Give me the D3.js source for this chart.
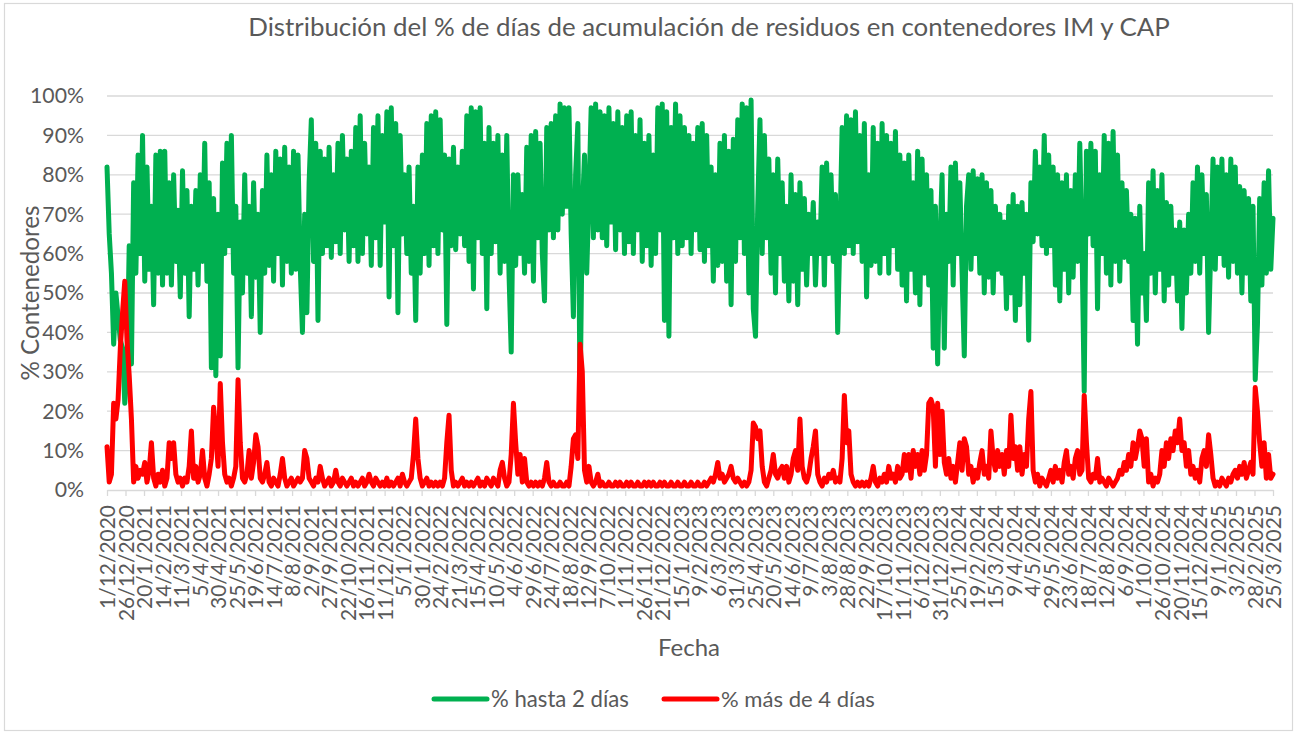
<!DOCTYPE html>
<html><head><meta charset="utf-8">
<script src="https://cdn.jsdelivr.net/npm/d3@7"></script>
<style>
body{margin:0;background:#fff}
text{font-family:Lato,"Open Sans",sans-serif;fill:#595959}
</style>
</head><body>
<svg id="c" width="1298" height="735"></svg>
<script>
const title = "Distribución del % de días de acumulación de residuos en contenedores IM y CAP";
const yAxisTitle = "% Contenedores";
const xAxisTitle = "Fecha";
const seriesNames = ["% hasta 2 días", "% más de 4 días"];
const startDate = "1/12/2020";
const endDate = "25/3/2025";
const stepDays = 3;
const yTicks = [0,10,20,30,40,50,60,70,80,90,100];
const tickLabels = ["1/12/2020","26/12/2020","20/1/2021","14/2/2021","11/3/2021","5/4/2021","30/4/2021","25/5/2021","19/6/2021","14/7/2021","8/8/2021","2/9/2021","27/9/2021","22/10/2021","16/11/2021","11/12/2021","5/1/2022","30/1/2022","24/2/2022","21/3/2022","15/4/2022","10/5/2022","4/6/2022","29/6/2022","24/7/2022","18/8/2022","12/9/2022","7/10/2022","1/11/2022","26/11/2022","21/12/2022","15/1/2023","9/2/2023","6/3/2023","31/3/2023","25/4/2023","20/5/2023","14/6/2023","9/7/2023","3/8/2023","28/8/2023","22/9/2023","17/10/2023","11/11/2023","6/12/2023","31/12/2023","25/1/2024","19/2/2024","15/3/2024","9/4/2024","4/5/2024","29/5/2024","23/6/2024","18/7/2024","12/8/2024","6/9/2024","1/10/2024","26/10/2024","20/11/2024","15/12/2024","9/1/2025","3/2/2025","28/2/2025","25/3/2025"];

// % hasta 2 días (one value every 3 days)
const hasta2 = [
82,65,55,37,50,44,38,36,22,30,
62,32,78,55,85,60,90,53,82,56,
72,47,85,55,86,52,86,55,78,52,
80,58,71,49,81,55,76,44,72,56,
76,52,80,58,88,53,78,31,74,29,
70,34,83,60,88,62,90,55,72,31,
68,50,80,55,72,44,78,54,70,40,
76,55,85,57,80,53,86,60,84,52,
87,58,82,55,86,56,85,57,40,70,
45,78,94,58,88,43,86,60,84,62,
87,59,80,63,88,60,90,66,84,58,
86,62,92,58,95,60,88,65,82,57,
92,64,95,57,90,68,96,49,97,62,
93,45,90,65,80,60,82,55,72,43,
82,55,85,60,93,57,95,62,96,60,
94,66,85,42,84,62,87,61,82,65,
86,62,95,58,97,51,96,64,97,60,
88,46,92,60,88,63,90,55,85,58,
90,55,35,80,57,80,60,75,55,87,
58,90,53,91,64,88,60,48,92,66,
93,64,95,66,98,70,97,72,97,65,
44,80,93,22,70,85,55,75,97,64,
98,66,96,64,95,62,97,68,93,61,
96,66,92,60,95,63,96,60,90,66,
94,58,88,62,90,57,85,60,97,66,
98,43,96,39,92,64,98,60,95,62,
92,64,90,60,88,66,92,61,93,58,
90,62,82,53,80,57,88,58,90,53,
86,47,89,58,94,64,98,60,97,50,
99,46,39,72,94,60,90,64,84,55,
80,50,84,60,78,53,72,48,80,53,
75,47,78,56,74,52,70,60,73,52,
68,60,82,52,83,60,80,58,75,40,
65,92,60,95,62,94,60,96,63,90,
58,93,49,80,57,92,58,88,55,93,
60,90,55,88,62,91,56,85,52,83,
48,85,56,78,50,86,47,84,55,80,
52,76,36,72,32,62,80,36,70,58,
82,52,83,60,78,55,34,72,80,56,
81,60,79,55,80,50,78,54,76,50,
72,56,70,55,68,46,72,50,75,43,
72,47,73,55,70,38,78,63,86,65,
82,62,90,60,85,62,82,52,80,48,
78,56,80,50,76,54,80,58,88,62,
25,86,65,88,62,86,46,80,60,90,
55,88,52,91,58,85,53,78,59,76,
58,70,43,69,37,72,50,60,43,78,
55,81,50,76,56,80,48,73,52,72,
55,66,48,68,41,66,50,70,55,78,
58,82,55,80,60,75,40,62,84,56,
82,60,84,57,80,54,84,58,82,55,
77,50,76,55,74,48,72,28,42,74,
52,78,55,81,56,69
];

// % más de 4 días
const mas4 = [
11,2,4,22,18,23,36,45,53,38,
29,18,2,6,3,5,4,7,2,5,
12,3,1,4,2,5,1,3,12,8,
12,4,2,3,1,3,2,6,15,3,
6,2,4,10,3,1,4,8,21,14,
6,27,12,4,2,3,1,3,6,28,
12,3,2,4,10,3,7,14,11,3,
2,4,7,2,1,3,2,1,4,8,
3,1,2,3,1,2,3,2,3,10,
8,3,2,1,3,2,6,3,1,2,
3,1,2,5,2,1,3,2,1,2,
3,1,2,1,2,3,1,2,4,2,
1,3,2,1,2,1,3,1,2,1,
2,3,1,4,2,1,2,3,9,18,
8,3,1,2,3,1,2,1,2,1,
2,1,3,12,19,5,1,2,1,2,
3,1,2,1,2,1,2,3,1,2,
1,3,2,1,3,2,1,5,7,3,
1,2,9,22,12,4,9,2,8,2,
1,2,1,2,1,2,1,3,7,2,
1,2,1,1,2,1,1,2,1,6,
13,14,8,37,30,5,2,6,2,1,
2,4,1,2,1,1,2,1,1,2,
1,2,1,1,2,1,2,1,1,2,
1,1,2,1,2,1,2,1,1,2,
1,2,1,1,2,1,1,2,1,1,
2,1,1,2,1,1,2,1,1,2,
1,2,3,2,4,7,3,4,2,3,
4,6,3,2,3,2,1,2,1,2,
5,17,16,13,15,6,2,1,3,5,
9,4,3,5,6,3,6,2,4,8,
10,5,18,6,3,2,4,8,11,15,
4,2,1,3,2,4,3,5,2,3,
2,8,24,12,15,4,2,1,2,1,
2,1,2,1,3,6,2,1,3,2,
4,2,6,3,4,2,6,3,4,9,
5,9,3,10,6,9,4,10,5,9,
22,23,21,6,22,9,20,7,4,8,
3,6,2,7,12,5,13,11,4,6,
2,5,3,7,10,4,6,3,15,8,
5,10,6,9,4,10,6,19,8,11,
5,11,4,9,6,18,25,5,2,4,
1,3,2,1,3,5,2,6,3,5,
2,7,10,4,6,3,8,10,4,5,
24,12,3,2,4,3,8,2,3,2,
1,3,2,1,2,3,5,4,7,5,
9,6,12,8,11,15,13,6,13,2,
4,1,3,2,4,10,6,12,8,13,
10,15,12,18,10,12,6,10,4,6,
3,5,2,8,10,6,14,9,3,1,
2,1,3,2,1,3,2,4,5,3,
6,4,7,3,5,7,4,26,20,12,
6,12,3,9,3,4
];

const colors = ["#00b050", "#ff0000"];
const parse = d3.utcParse("%d/%m/%Y");
const fmt = d3.utcFormat("%-d/%-m/%Y");
const t0 = parse(startDate), t1 = parse(endDate);
const dateAt = i => d3.utcDay.offset(t0, i * stepDays);

const svg = d3.select("#c");
const M = {left:107, right:1273, top:96, bottom:490};
const x = d3.scaleUtc().domain([t0, t1]).range([M.left, M.right]);
const y = d3.scaleLinear().domain([0, 100]).range([M.bottom, M.top]);

function fit(sel, w){
  const L = sel.node().getComputedTextLength();
  const fs = parseFloat(sel.attr("font-size"));
  sel.attr("font-size", fs * w / L);
  return fs * w / L;
}

// border
svg.append("rect").attr("x",4.5).attr("y",3.5).attr("width",1288).attr("height",727)
  .attr("fill","#fff").attr("stroke","#d9d9d9").attr("stroke-width",1.2);

// title
const tt = svg.append("text").attr("x",709).attr("y",36).attr("text-anchor","middle")
  .attr("font-size",20).text(title);
fit(tt, 922);

// gridlines
svg.append("g").selectAll("line").data(yTicks.filter(d=>d>0)).join("line")
  .attr("x1",M.left).attr("x2",M.right)
  .attr("y1",d=>y(d)).attr("y2",d=>y(d))
  .attr("stroke","#d9d9d9").attr("stroke-width",1.3);

// y labels
const yl = svg.append("g").selectAll("text").data(yTicks).join("text")
  .attr("x",84).attr("y",d=>y(d)).attr("dy","0.35em").attr("text-anchor","end")
  .attr("font-size",17).text(d=>d+"%");
const yfs = fit(d3.select(yl.nodes()[10]), 54);
yl.attr("font-size", yfs);

// x axis
const tickDates = tickLabels.map(parse);
const xAxis = d3.axisBottom(x).tickValues(tickDates).tickFormat(fmt).tickSize(6).tickSizeOuter(0);
const gx = svg.append("g").attr("transform",`translate(0,${M.bottom})`).call(xAxis);
gx.select(".domain").attr("stroke","#d9d9d9").attr("stroke-width",1.5);
gx.selectAll(".tick line").attr("stroke","#d9d9d9").attr("stroke-width",1.3);
const xt = gx.selectAll(".tick text")
  .attr("transform","rotate(-90)")
  .attr("text-anchor","end")
  .attr("x",-15).attr("y",0).attr("dy","0.36em")
  .attr("fill","#595959").attr("font-family","Lato, 'Open Sans', sans-serif")
  .attr("font-size",16);
const xfs = fit(d3.select(xt.nodes()[0]), 104);
xt.attr("font-size", xfs);

// axis titles
const yt = svg.append("text").attr("transform","translate(31,293) rotate(-90)")
  .attr("text-anchor","middle").attr("dy","0.35em").attr("font-size",20).text(yAxisTitle);
fit(yt, 175);
const xtt = svg.append("text").attr("x",689).attr("y",648).attr("dy","0.35em")
  .attr("text-anchor","middle").attr("font-size",20).text(xAxisTitle);
fit(xtt, 62);

// lines
const series = [hasta2, mas4];
const line = d3.line().x((d,i)=>x(dateAt(i))).y(d=>y(d)).curve(d3.curveLinear);
series.forEach((s,k)=>{
  svg.append("path").datum(s).attr("d",line)
    .attr("fill","none").attr("stroke",colors[k]).attr("stroke-width",5)
    .attr("stroke-linejoin","round").attr("stroke-linecap","round");
});

// legend
const leg = [{x1:434,x2:487,tx:491,w:138},{x1:664,x2:717,tx:721,w:154}];
leg.forEach((L,k)=>{
  svg.append("line").attr("x1",L.x1).attr("x2",L.x2).attr("y1",699).attr("y2",699)
    .attr("stroke",colors[k]).attr("stroke-width",5).attr("stroke-linecap","round");
  const t = svg.append("text").attr("x",L.tx).attr("y",699).attr("dy","0.35em")
    .attr("font-size",18).text(seriesNames[k]);
  fit(t, L.w);
});
</script>
</body></html>
